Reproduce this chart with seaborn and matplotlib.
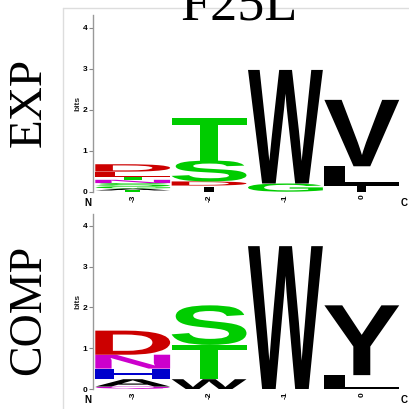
import matplotlib
matplotlib.use('Agg')
import seaborn as sns
from matplotlib import pyplot as plt
from matplotlib.textpath import TextPath
from matplotlib.patches import PathPatch
from matplotlib.font_manager import FontProperties
from matplotlib.transforms import Affine2D
from matplotlib.lines import Line2D

positions = [-3, -2, -1, 0]
pos_labels = ['-3', '-2', '-1', '0']

exp_letters = [['A', 'G', 'S', 'N', 'T', 'E', 'D'], ['D', 'S', 'T'], ['G', 'W'], ['L', 'V']]
exp_heights = [[0.05, 0.05, 0.08, 0.08, 0.08, 0.12, 0.18], [0.10, 0.51, 1.03], [0.20, 2.77], [0.47, 1.62]]
exp_base = [0.03, 0.15, 0.0, 0.15]
exp_mark_h = [0.03, 0.12, 0.0, 0.14]
exp_mark_col = ['#00CC00', 'black', 'black', 'black']

comp_letters = [['Q', 'A', 'H', 'N', 'D'], ['W', 'T', 'S'], ['W'], ['L', 'Y']]
comp_heights = [[0.06, 0.18, 0.26, 0.34, 0.59], [0.24, 0.84, 0.97], [3.5], [0.34, 1.71]]
comp_base = [0.0, 0.0, 0.0, 0.0]

# letter colours as used in the logo
colours = {}
for c in 'GSTC':
    colours[c] = '#00CC00'
for c in 'NQ':
    colours[c] = '#CC00CC'
for c in 'KRH':
    colours[c] = '#0000CC'
for c in 'DE':
    colours[c] = '#CC0000'
for c in 'AVLIPWFMY':
    colours[c] = '#000000'

sns.set_style('white')
plt.rcParams['font.family'] = ['Liberation Sans', 'DejaVu Sans']
plt.rcParams['text.color'] = 'black'
plt.rcParams['ytick.color'] = '#888888'
plt.rcParams['ytick.labelcolor'] = 'black'
plt.rcParams['xtick.labelcolor'] = 'black'

FP = FontProperties(family='Liberation Sans', weight='bold')


def draw_letter(ax, ch, x, y0, h, col, w=0.98):
    tp = TextPath((0, 0), ch, size=1, prop=FP)
    bb = tp.get_extents()
    t = Affine2D().translate(-bb.x0, -bb.y0).scale(w / bb.width, h / bb.height).translate(x - w / 2, y0)
    ax.add_patch(PathPatch(t.transform_path(tp), fc=col, ec='none', lw=0))


def draw_logo(ax, letters, heights, base):
    for i in range(0, len(positions)):
        y = base[i]
        for j in range(0, len(letters[i])):
            draw_letter(ax, letters[i][j], positions[i], y, heights[i][j], colours[letters[i][j]])
            y += heights[i][j]
    ax.set_xlim(-3.52, 0.5)
    ax.set_ylim(0, 4.3)
    ax.set_yticks([0, 1, 2, 3, 4])
    ax.set_yticklabels(['0', '1', '2', '3', '4'], fontsize=6, fontweight='bold')
    ax.set_xticks(positions)
    ax.set_xticklabels(pos_labels, rotation=90, fontsize=6, fontweight='bold')
    ax.tick_params(axis='x', length=0, pad=2)
    ax.tick_params(axis='y', length=3, width=0.8, pad=1, left=True)
    sns.despine(ax=ax, bottom=True)
    ax.spines['left'].set_color('#999999')
    ax.spines['left'].set_linewidth(1.0)
    ax.set_ylabel('bits', fontsize=6, fontweight='bold', labelpad=1)
    ax.patch.set_alpha(0)
    ax.text(-0.016, -0.035, 'N', transform=ax.transAxes, ha='center', va='top', fontsize=7, fontweight='bold')
    ax.text(1.013, -0.035, 'C', transform=ax.transAxes, ha='center', va='top', fontsize=7, fontweight='bold')


fig = plt.figure(figsize=(4.1, 4.09), dpi=100)

# faint table borders
fig.add_artist(Line2D([63 / 410, 1], [1 - 8 / 409, 1 - 8 / 409], color='#dddddd', lw=1, zorder=0))
fig.add_artist(Line2D([63 / 410, 63 / 410], [0, 1 - 8 / 409], color='#dddddd', lw=1, zorder=0))

ax1 = fig.add_axes([93 / 410, (409 - 191.7) / 409, 307 / 410, 176.3 / 409])
ax2 = fig.add_axes([93 / 410, (409 - 389) / 409, 307 / 410, 175.5 / 409])

draw_logo(ax1, exp_letters, exp_heights, exp_base)
draw_logo(ax2, comp_letters, comp_heights, comp_base)

# the little marks sitting under some EXP stacks
mark_w = [0.2, 0.12, 0.12, 0.12]
ax1.bar(positions, exp_mark_h, width=mark_w, color=exp_mark_col, bottom=0, linewidth=0)

serif = ['Liberation Serif', 'DejaVu Serif']
fig.text(239 / 410, 1 - 20 / 409, 'F25L', ha='center', va='baseline', fontsize=39, family=serif)
fig.text(29 / 410, 1 - 102 / 409, 'EXP', ha='center', va='center', rotation=90, fontsize=34, family=serif)
fig.text(29 / 410, 1 - 310 / 409, 'COMP', ha='center', va='center', rotation=90, fontsize=33, family=serif)

fig.savefig('out.png', dpi=100)
